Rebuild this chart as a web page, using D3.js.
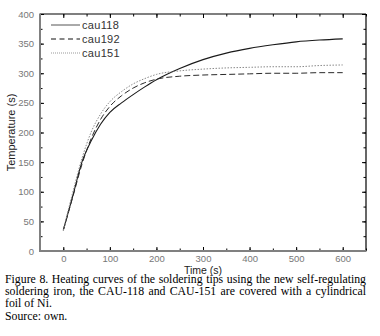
<!DOCTYPE html>
<html>
<head>
<meta charset="utf-8">
<script src="https://cdn.jsdelivr.net/npm/d3@7"></script>
<style>
  body { margin: 0; background: #fff; }
  svg { display: block; }
</style>
</head>
<body>
<div class="chart"></div>
<script>
var width = 380;
var height = 336;

// data
var times = [0, 20, 40, 60, 80, 100, 125, 150, 175, 200, 250, 300, 350, 400, 450, 500, 550, 600];
var cau118 = [35, 92, 150, 186, 214, 234, 250, 264, 277, 289, 308, 323, 334, 342, 348, 353, 356, 358];
var cau192 = [35, 90, 146, 190, 222, 244, 262, 275, 284, 290, 295, 297, 298, 299, 300, 300, 301, 301];
var cau151 = [35, 98, 156, 201, 231, 252, 269, 282, 291, 298, 304, 307, 309, 310, 311, 311, 313, 314];
var seriesNames = ['cau118', 'cau192', 'cau151'];
var xTicks = [0, 100, 200, 300, 400, 500, 600];
var yTicks = [0, 50, 100, 150, 200, 250, 300, 350, 400];
var caption = [
  'Figure 8. Heating curves of the soldering tips using the new self-regulating',
  'soldering iron, the CAU-118 and CAU-151 are covered with a cylindrical',
  'foil of Ni.',
  'Source: own.'
];

var styles = {
  cau118: {stroke: '#1a1a1a', dash: null, legend: '#555', w: 1.1},
  cau192: {stroke: '#2a2a2a', dash: '6,3', legend: '#111', w: 1},
  cau151: {stroke: '#8a8a8a', dash: '1.5,1.5', legend: '#999', w: 1}
};

var plot = {left: 40, right: 366, top: 14, bottom: 251};

var x = d3.scaleLinear().domain([-50, 650]).range([plot.left, plot.right]);
var y = d3.scaleLinear().domain([0, 400]).range([plot.bottom, plot.top]);

var svg = d3.select('.chart').append('svg')
  .attr('width', width)
  .attr('height', height);

/// minor ticks
var xMinor = d3.range(-50, 651, 50);
var yMinor = d3.range(0, 401, 25);

function tickStyle(g) {
  g.select('.domain').remove();
  g.selectAll('line').attr('stroke', '#000').attr('stroke-width', 1);
}

svg.append('g')
  .attr('transform', 'translate(0,' + plot.bottom + ')')
  .call(d3.axisBottom(x).tickValues(xMinor).tickSize(-2.5).tickFormat(''))
  .call(tickStyle);
svg.append('g')
  .attr('transform', 'translate(0,' + plot.top + ')')
  .call(d3.axisTop(x).tickValues(xMinor).tickSize(-2.5).tickFormat(''))
  .call(tickStyle);
svg.append('g')
  .attr('transform', 'translate(' + plot.left + ',0)')
  .call(d3.axisLeft(y).tickValues(yMinor).tickSize(-2.5).tickFormat(''))
  .call(tickStyle);
svg.append('g')
  .attr('transform', 'translate(' + plot.right + ',0)')
  .call(d3.axisRight(y).tickValues(yMinor).tickSize(-2.5).tickFormat(''))
  .call(tickStyle);

/// major ticks
var xAxis = svg.append('g')
  .attr('transform', 'translate(0,' + plot.bottom + ')')
  .call(d3.axisBottom(x).tickValues(xTicks).tickSize(-4).tickPadding(4));
xAxis.call(tickStyle);
xAxis.selectAll('text')
  .attr('font-family', 'Liberation Sans, Arial, sans-serif')
  .attr('font-size', '9.5px')
  .attr('fill', '#777');

svg.append('g')
  .attr('transform', 'translate(0,' + plot.top + ')')
  .call(d3.axisTop(x).tickValues(xTicks).tickSize(-4).tickFormat(''))
  .call(tickStyle);

var yAxis = svg.append('g')
  .attr('transform', 'translate(' + plot.left + ',0)')
  .call(d3.axisLeft(y).tickValues(yTicks).tickSize(-4).tickPadding(6));
yAxis.call(tickStyle);
yAxis.selectAll('text')
  .attr('font-family', 'Liberation Sans, Arial, sans-serif')
  .attr('font-size', '9.5px')
  .attr('fill', '#777');

svg.append('g')
  .attr('transform', 'translate(' + plot.right + ',0)')
  .call(d3.axisRight(y).tickValues(yTicks).tickSize(-4).tickFormat(''))
  .call(tickStyle);

/// frame: top and right black, left and bottom thicker gray
svg.append('line')
  .attr('x1', plot.left).attr('x2', plot.right)
  .attr('y1', plot.top).attr('y2', plot.top)
  .attr('stroke', '#000').attr('stroke-width', 1.2);
svg.append('line')
  .attr('x1', plot.right).attr('x2', plot.right)
  .attr('y1', plot.top).attr('y2', plot.bottom)
  .attr('stroke', '#000').attr('stroke-width', 1.2);
svg.append('line')
  .attr('x1', plot.left).attr('x2', plot.left)
  .attr('y1', plot.top - 0.5).attr('y2', plot.bottom + 1)
  .attr('stroke', '#808080').attr('stroke-width', 2);
svg.append('line')
  .attr('x1', plot.left - 1).attr('x2', plot.right + 0.5)
  .attr('y1', plot.bottom).attr('y2', plot.bottom)
  .attr('stroke', '#808080').attr('stroke-width', 2);

/// curves
var data = [cau118, cau192, cau151];
var line = d3.line()
  .x(function(d, i){ return x(times[i]); })
  .y(function(d){ return y(d); })
  .curve(d3.curveMonotoneX);

svg.selectAll('.curve')
  .data(data)
  .enter().append('path')
  .attr('class', 'curve')
  .attr('fill', 'none')
  .attr('stroke', function(d, i){ return styles[seriesNames[i]].stroke; })
  .attr('stroke-width', function(d, i){ return styles[seriesNames[i]].w; })
  .attr('stroke-dasharray', function(d, i){ return styles[seriesNames[i]].dash; })
  .attr('d', line);

/// legend
var legend = svg.selectAll('.legend')
  .data(seriesNames)
  .enter().append('g')
  .attr('class', 'legend')
  .attr('transform', function(d, i){ return 'translate(51,' + (25 + i * 14) + ')'; });

legend.append('line')
  .attr('x1', 0).attr('x2', 29)
  .attr('stroke', function(d){ return styles[d].legend; })
  .attr('stroke-width', 1)
  .attr('stroke-dasharray', function(d){ return d === 'cau192' ? '5,3.5' : (d === 'cau151' ? '1,1' : null); });

legend.append('text')
  .attr('x', 31)
  .attr('y', 4)
  .attr('font-family', 'Liberation Sans, Arial, sans-serif')
  .attr('font-size', '11px')
  .attr('letter-spacing', '0.3px')
  .attr('fill', '#333')
  .text(function(d){ return d; });

/// axis titles
svg.append('text')
  .attr('x', x(300))
  .attr('y', 273.5)
  .attr('text-anchor', 'middle')
  .attr('font-family', 'Liberation Sans, Arial, sans-serif')
  .attr('font-size', '10.5px')
  .attr('fill', '#222')
  .text('Time (s)');

svg.append('text')
  .attr('transform', 'translate(15,' + y(200) + ') rotate(-90)')
  .attr('text-anchor', 'middle')
  .attr('font-family', 'Liberation Sans, Arial, sans-serif')
  .attr('font-size', '11px')
  .attr('fill', '#222')
  .text('Temperature (s)');

/// caption, first two lines justified
var capY = [283, 295, 307, 319.5];
caption.forEach(function(txt, i) {
  var t = svg.append('text')
    .attr('x', 5)
    .attr('y', capY[i])
    .attr('font-family', 'Liberation Serif, Times New Roman, serif')
    .attr('font-size', '11.8px')
    .attr('fill', '#000')
    .text(txt);
  if (i < 2) {
    var len = t.node().getComputedTextLength();
    var gaps = txt.split(' ').length - 1;
    t.attr('word-spacing', ((366 - 5 - len) / gaps) + 'px');
  }
});
</script>
</body>
</html>
